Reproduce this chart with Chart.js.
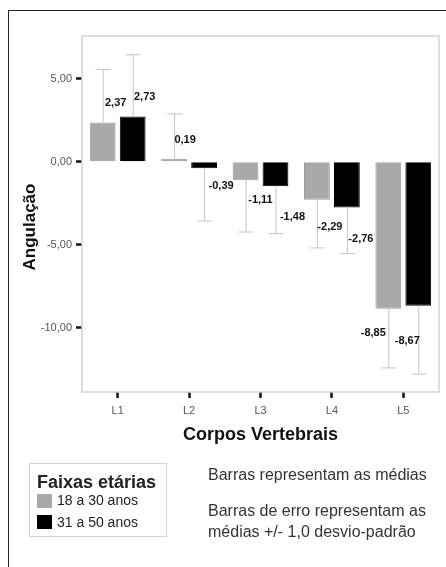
<!DOCTYPE html>
<html>
<head>
<meta charset="utf-8">
<script src="https://cdn.jsdelivr.net/npm/chart.js@4"></script>
<style>
  body { margin: 0; background: #fff; font-family: 'Liberation Sans', Arial, sans-serif; }
  #wrap { position: relative; width: 446px; height: 567px; overflow: hidden; }
  #frame { position: absolute; left: 8px; top: 10px; width: 460px; height: 600px; border: 1.5px solid #222; }
  canvas { position: absolute; left: 0; top: 0; }
  #legend { position: absolute; left: 29px; top: 463px; width: 138px; height: 74px; border: 1px solid #d4d4d4; box-sizing: border-box; color: #222; }
  #legend .ttl { position: absolute; left: 7px; top: 9px; font-weight: bold; font-size: 18px; line-height: 18px; white-space: nowrap; }
  #legend .item { position: absolute; left: 27px; font-size: 14px; line-height: 14px; white-space: nowrap; }
  #legend .sw { position: absolute; left: 7px; width: 15px; height: 14px; }
  .note { position: absolute; left: 208px; font-size: 16px; line-height: 16px; color: #333; white-space: nowrap; }
</style>
</head>
<body>
<div id="wrap">
  <div id="frame"></div>
  <canvas id="myChart" width="446" height="567"></canvas>
  <div id="legend">
    <div class="ttl">Faixas etárias</div>
    <div class="sw" style="top:30px;background:#a9a9a9"></div>
    <div class="item" style="top:29px">18 a 30 anos</div>
    <div class="sw" style="top:51px;background:#000"></div>
    <div class="item" style="top:51px">31 a 50 anos</div>
  </div>
  <div class="note" style="top:467px">Barras representam as médias</div>
  <div class="note" style="top:503px">Barras de erro representam as</div>
  <div class="note" style="top:524px">médias +/- 1,0 desvio-padrão</div>
</div>
<script>
// dados
const vertebras = ['L1', 'L2', 'L3', 'L4', 'L5'];
const groupNames = ['18 a 30 anos', '31 a 50 anos'];
const mean1830 = [2.37, 0.19, -1.11, -2.29, -8.85];
const mean3150 = [2.73, -0.39, -1.48, -2.76, -8.67];
const sd1830 = [3.22, 2.73, 3.09, 2.87, 3.54];
const sd3150 = [3.75, 3.15, 2.82, 2.74, 4.10];
const yTicks = [-10, -5, 0, 5];

// deslocamento dos rotulos (px) em relacao ao fim da barra
const labelShift = [
  [[13, -20], [11, -19], [15, 20], [13, 27], [-15, 24]],
  [[12, -20], [17, 18], [17, 31], [14, 31], [-11, 35]]
];

const fmt = v => v.toFixed(2).replace('.', ',');
const FONT = "'Liberation Sans', Arial, sans-serif";

// caixa da area do grafico, barras de erro e rotulos
const extras = {
  id: 'extras',
  beforeDatasetsDraw(chart) {
    const a = chart.chartArea, ctx = chart.ctx;
    ctx.save();
    ctx.strokeStyle = '#d2d2d2';
    ctx.lineWidth = 1.5;
    ctx.strokeRect(a.left, a.top, a.right - a.left, a.bottom - a.top);
    ctx.restore();
  },
  afterDatasetsDraw(chart) {
    const ctx = chart.ctx, y = chart.scales.y;
    const sds = [sd1830, sd3150];
    ctx.save();
    chart.data.datasets.forEach((ds, d) => {
      chart.getDatasetMeta(d).data.forEach((el, j) => {
        const v = ds.data[j];
        const end = v >= 0 ? v + sds[d][j] : v - sds[d][j];
        const ye = y.getPixelForValue(end);
        ctx.strokeStyle = '#c4c4c4';
        ctx.lineWidth = 1;
        ctx.beginPath();
        ctx.moveTo(el.x + 0.5, el.y);
        ctx.lineTo(el.x + 0.5, ye);
        ctx.moveTo(el.x - 7, ye + 0.5);
        ctx.lineTo(el.x + 8, ye + 0.5);
        ctx.stroke();
      });
    });
    ctx.font = 'bold 11px ' + FONT;
    ctx.fillStyle = '#111';
    ctx.textAlign = 'center';
    ctx.textBaseline = 'middle';
    chart.data.datasets.forEach((ds, d) => {
      chart.getDatasetMeta(d).data.forEach((el, j) => {
        const s = labelShift[d][j];
        ctx.fillText(fmt(ds.data[j]), el.x + s[0], el.y + s[1]);
      });
    });
    // titulo do eixo y
    const a = chart.chartArea;
    ctx.translate(30, (a.top + a.bottom) / 2 + 13);
    ctx.rotate(-Math.PI / 2);
    ctx.font = 'bold 17px ' + FONT;
    ctx.fillStyle = '#111';
    ctx.fillText('Angulação', 0, 0);
    ctx.restore();
  }
};

const ctx = document.getElementById('myChart').getContext('2d');
new Chart(ctx, {
  type: 'bar',
  data: {
    labels: vertebras,
    datasets: [{
      label: groupNames[0],
      data: mean1830,
      backgroundColor: '#a9a9a9',
      borderColor: '#9a9a9a',
      borderWidth: 1,
      categoryPercentage: 0.84,
      barPercentage: 0.86
    }, {
      label: groupNames[1],
      data: mean3150,
      backgroundColor: '#000',
      borderColor: '#000',
      borderWidth: 1,
      categoryPercentage: 0.84,
      barPercentage: 0.86
    }]
  },
  options: {
    responsive: false,
    animation: false,
    layout: { padding: { left: 0, top: 36, right: 7, bottom: 115 } },
    plugins: { legend: { display: false }, tooltip: { enabled: false } },
    scales: {
      x: {
        afterFit: s => { s.height = 60; },
        grid: { offset: false, drawOnChartArea: false, tickLength: 6, tickWidth: 2.5, tickColor: '#111' },
        border: { display: false },
        ticks: { color: '#555', padding: 6, font: { family: FONT, size: 11 } },
        title: { display: true, text: 'Corpos Vertebrais', color: '#111', padding: { top: 0, bottom: 6 },
                 font: { family: FONT, size: 18, weight: 'bold' } }
      },
      y: {
        min: -13.87,
        max: 7.58,
        afterFit: s => { s.width = 82; },
        afterBuildTicks: s => { s.ticks = yTicks.map(v => ({ value: v })); },
        grid: { drawOnChartArea: false, tickLength: 6, tickWidth: 2.5, tickColor: '#111' },
        border: { display: false },
        ticks: { color: '#555', padding: 4, font: { family: FONT, size: 11 }, callback: v => fmt(v) }
      }
    }
  },
  plugins: [extras]
});
</script>
</body>
</html>
